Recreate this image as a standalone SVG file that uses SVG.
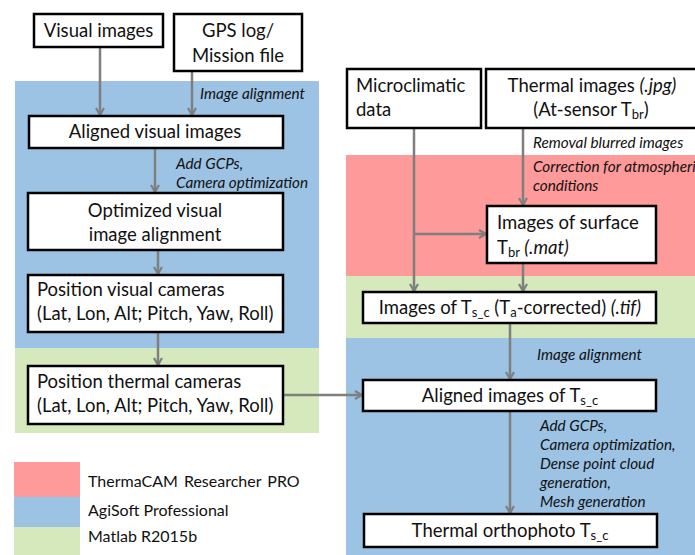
<svg xmlns="http://www.w3.org/2000/svg" width="695" height="555" viewBox="0 0 695 555">
  <defs>
    <marker id="arrow" markerWidth="10" markerHeight="10" refX="8" refY="5" orient="auto" markerUnits="userSpaceOnUse">
      <path d="M1,1 L8,5 L1,9" fill="none" stroke="#7f7f7f" stroke-width="2.2"/>
    </marker>
    <style>
      .box { fill: #ffffff; stroke: #000000; stroke-width: 2.5; }
      .t { font-family: Lato, "Open Sans", "Liberation Sans", sans-serif; font-size: 18.5px; fill: #111111; }
      .c { text-anchor: middle; }
      .sub { font-size: 13px; }
      .lbl { font-family: Lato, "Open Sans", "Liberation Sans", sans-serif; font-size: 15.3px; font-style: italic; fill: #111111; }
      .leg { font-family: Lato, "Open Sans", "Liberation Sans", sans-serif; font-size: 16px; fill: #111111; }
      .conn { fill: none; stroke: #7f7f7f; stroke-width: 2.5; }
      .blue { fill: #9cc3e4; }
      .red { fill: #fe9a9a; }
      .green { fill: #d5e9bc; }
    </style>
  </defs>

  <!-- software zones -->
  <g id="zones">
    <rect class="blue" x="15" y="81" width="304" height="267"/>
    <rect class="green" x="15" y="348" width="304" height="85"/>
    <rect class="red" x="346" y="155" width="349" height="121"/>
    <rect class="green" x="346" y="276" width="349" height="62"/>
    <rect class="blue" x="346" y="338" width="349" height="217"/>
  </g>

  <!-- legend -->
  <g id="legend">
    <rect class="red" x="14" y="462" width="66" height="35"/>
    <rect class="blue" x="14" y="497" width="66" height="30"/>
    <rect class="green" x="14" y="527" width="66" height="28"/>
    <text class="leg" x="88" y="487" word-spacing="2">ThermaCAM Researcher PRO</text>
    <text class="leg" x="88" y="516">AgiSoft Professional</text>
    <text class="leg" x="88" y="542">Matlab R2015b</text>
  </g>

  <!-- connectors -->
  <g id="connectors">
    <line class="conn" x1="100" y1="47" x2="100" y2="115" marker-end="url(#arrow)"/>
    <line class="conn" x1="192" y1="71" x2="192" y2="115" marker-end="url(#arrow)"/>
    <line class="conn" x1="155" y1="148" x2="155" y2="192" marker-end="url(#arrow)"/>
    <line class="conn" x1="158" y1="250" x2="158" y2="274" marker-end="url(#arrow)"/>
    <line class="conn" x1="158" y1="332" x2="158" y2="365" marker-end="url(#arrow)"/>
    <line class="conn" x1="283" y1="395" x2="362" y2="395" marker-end="url(#arrow)"/>
    <line class="conn" x1="414" y1="128" x2="414" y2="291" marker-end="url(#arrow)"/>
    <line class="conn" x1="414" y1="234" x2="486" y2="234" marker-end="url(#arrow)"/>
    <line class="conn" x1="523" y1="128" x2="523" y2="205" marker-end="url(#arrow)"/>
    <line class="conn" x1="523" y1="263" x2="523" y2="291" marker-end="url(#arrow)"/>
    <line class="conn" x1="510" y1="323" x2="510" y2="379" marker-end="url(#arrow)"/>
    <line class="conn" x1="510" y1="411" x2="510" y2="513" marker-end="url(#arrow)"/>

    <text class="lbl" x="200" y="99">Image alignment</text>
    <text class="lbl" x="176" y="169">Add GCPs,</text>
    <text class="lbl" x="176" y="188">Camera optimization</text>
    <text class="lbl" x="533" y="148">Removal blurred images</text>
    <text class="lbl" x="533" y="172">Correction for atmospheric</text>
    <text class="lbl" x="533" y="191">conditions</text>
    <text class="lbl" x="537" y="360">Image alignment</text>
    <text class="lbl" x="540" y="431">Add GCPs,</text>
    <text class="lbl" x="540" y="450">Camera optimization,</text>
    <text class="lbl" x="540" y="469">Dense point cloud</text>
    <text class="lbl" x="540" y="488">generation,</text>
    <text class="lbl" x="540" y="507">Mesh generation</text>
  </g>

  <!-- nodes -->
  <g id="visual-images">
    <rect class="box" x="34" y="14" width="129" height="33"/>
    <text class="t c" x="98.5" y="37">Visual images</text>
  </g>
  <g id="gps-log">
    <rect class="box" x="174" y="14" width="128" height="57"/>
    <text class="t c" x="238" y="37">GPS log/</text>
    <text class="t c" x="238" y="62">Mission file</text>
  </g>
  <g id="aligned-visual">
    <rect class="box" x="29" y="116" width="254" height="32"/>
    <text class="t c" x="155" y="138">Aligned visual images</text>
  </g>
  <g id="optimized-visual">
    <rect class="box" x="28" y="193" width="255" height="57"/>
    <text class="t c" x="155" y="217">Optimized visual</text>
    <text class="t c" x="155" y="241">image alignment</text>
  </g>
  <g id="position-visual">
    <rect class="box" x="28" y="275" width="255" height="57"/>
    <text class="t" x="37" y="296">Position visual cameras</text>
    <text class="t" x="37" y="320">(Lat, Lon, Alt; Pitch, Yaw, Roll)</text>
  </g>
  <g id="position-thermal">
    <rect class="box" x="28" y="366" width="255" height="58"/>
    <text class="t" x="37" y="388">Position thermal cameras</text>
    <text class="t" x="37" y="412">(Lat, Lon, Alt; Pitch, Yaw, Roll)</text>
  </g>
  <g id="microclimatic">
    <rect class="box" x="347" y="69" width="134" height="59"/>
    <text class="t" x="356" y="92">Microclimatic</text>
    <text class="t" x="356" y="116">data</text>
  </g>
  <g id="thermal-images">
    <rect class="box" x="486" y="69" width="215" height="59"/>
    <text class="t c" x="592" y="92">Thermal images <tspan font-style="italic">(.jpg)</tspan></text>
    <text class="t c" x="591" y="116">(At-sensor T<tspan class="sub" dy="3">br</tspan><tspan dy="-3">)</tspan></text>
  </g>
  <g id="surface-tbr">
    <rect class="box" x="487" y="206" width="169" height="57"/>
    <text class="t" x="497" y="229">Images of surface</text>
    <text class="t" x="497" y="254">T<tspan class="sub" dy="3">br</tspan><tspan dy="-3" font-style="italic"> (.mat)</tspan></text>
  </g>
  <g id="ts-c-images">
    <rect class="box" x="363" y="292" width="293" height="31"/>
    <text class="t c" x="510" y="314">Images of T<tspan class="sub" dy="3">s_c</tspan><tspan dy="-3"> (T</tspan><tspan class="sub" dy="3">a</tspan><tspan dy="-3">-corrected) </tspan><tspan font-style="italic">(.tif)</tspan></text>
  </g>
  <g id="aligned-ts-c">
    <rect class="box" x="363" y="380" width="293" height="31"/>
    <text class="t c" x="510" y="402">Aligned images of T<tspan class="sub" dy="3">s_c</tspan></text>
  </g>
  <g id="orthophoto">
    <rect class="box" x="364" y="514" width="293" height="33"/>
    <text class="t c" x="510" y="537">Thermal orthophoto T<tspan class="sub" dy="3">s_c</tspan></text>
  </g>
</svg>
